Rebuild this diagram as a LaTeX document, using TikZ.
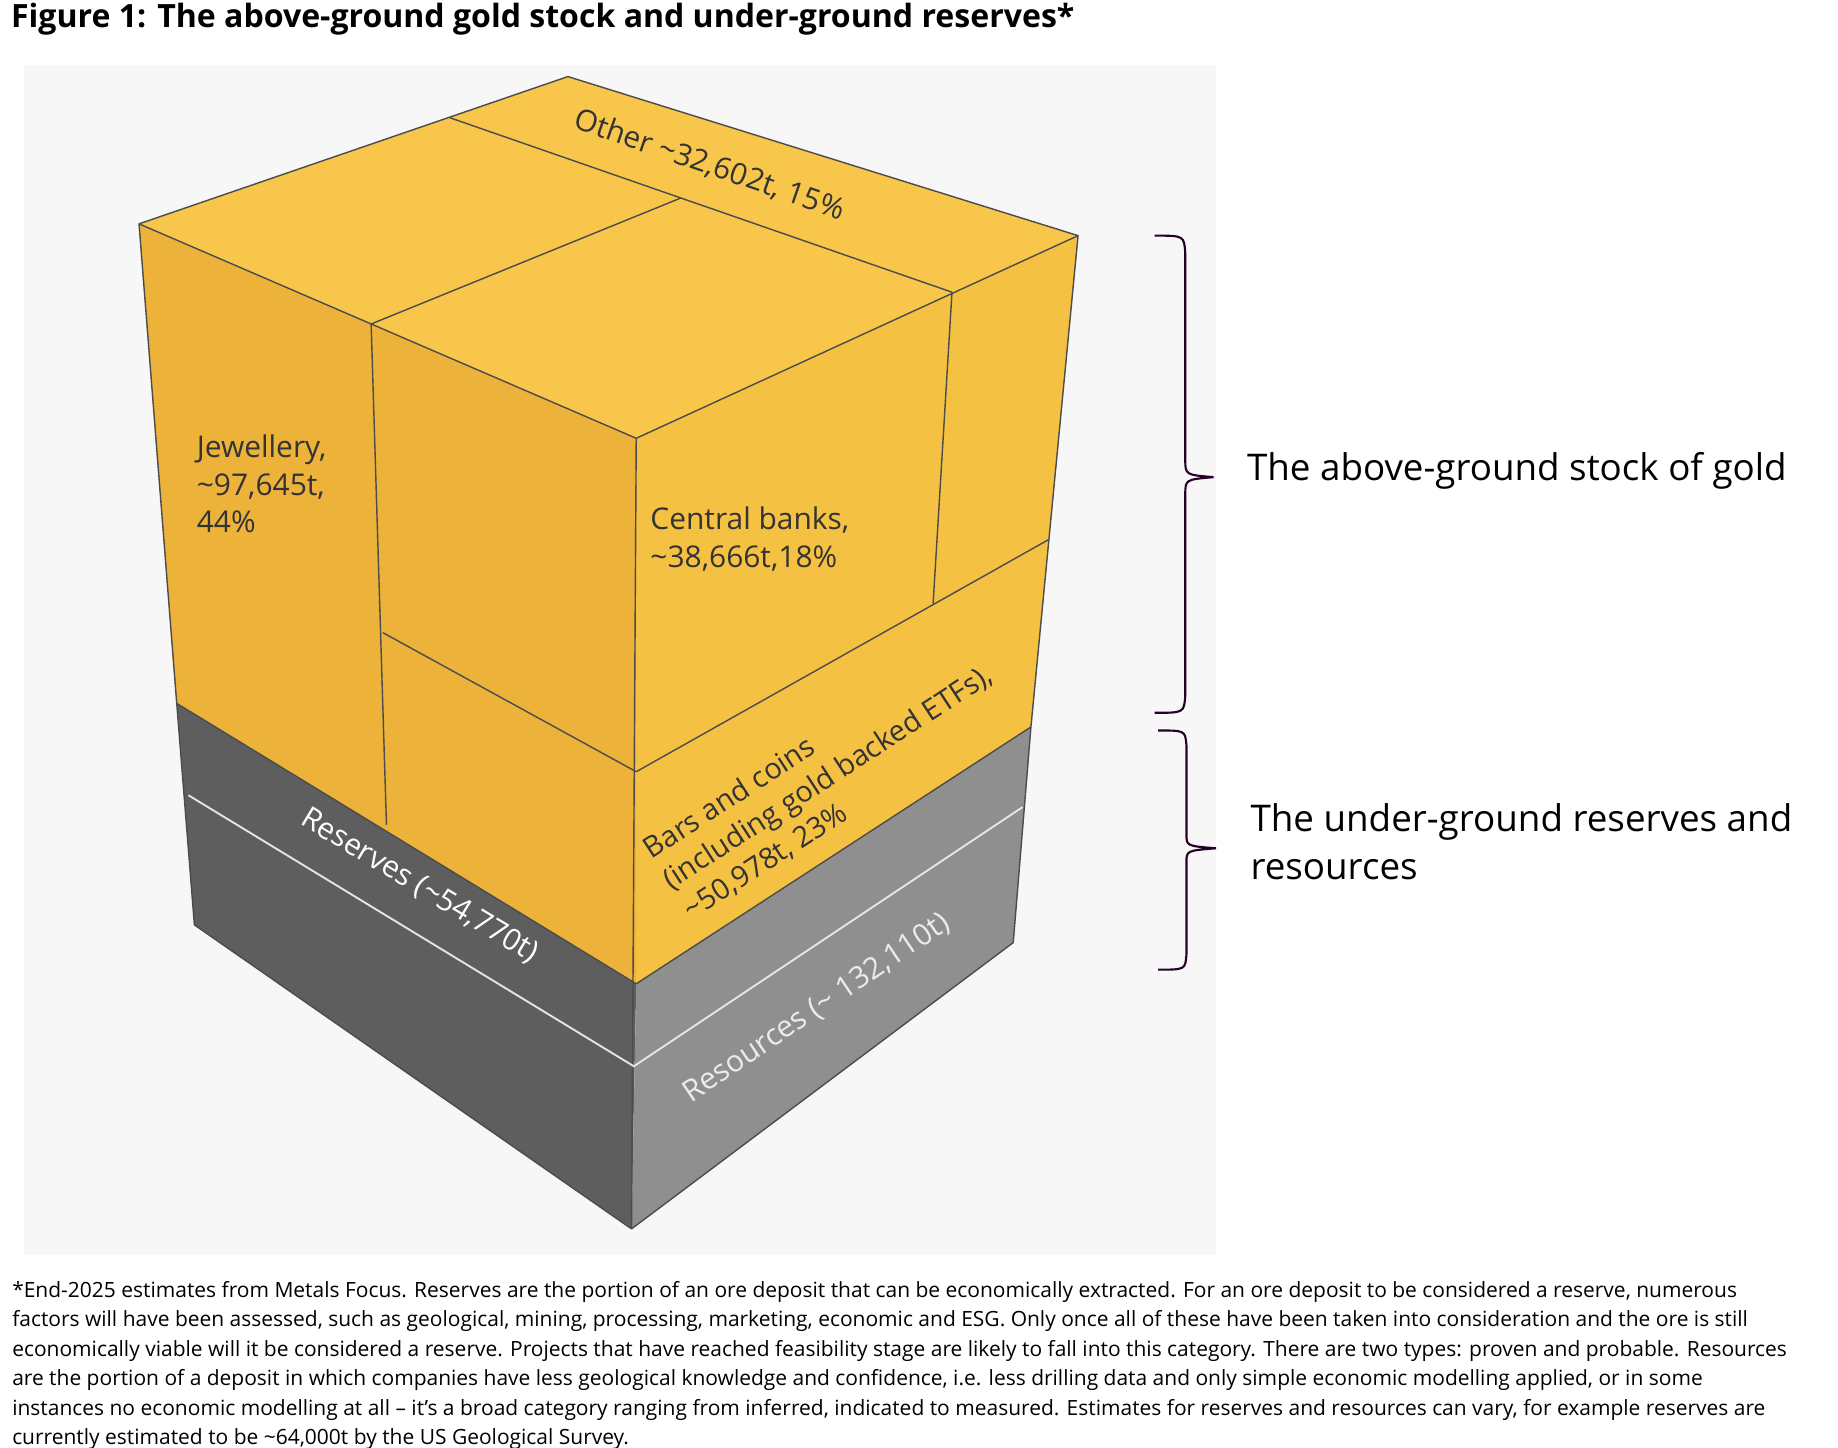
\documentclass[tikz,border=0pt]{standalone}
\usepackage{fontspec}
\setmainfont{Open Sans}
\definecolor{gtop}{RGB}{247,198,74}
\definecolor{gleft}{RGB}{236,178,58}
\definecolor{gright}{RGB}{245,193,67}
\begin{document}
\begin{tikzpicture}[x=0.5pt,y=-0.5pt,
  edge/.style={draw=black!70,line width=0.6pt,line join=round},
  lbl/.style={font=\fontsize{12.7}{16}\selectfont,text=black!80},
  wl/.style={font=\fontsize{12.7}{15}\selectfont,text=white},
  br/.style={draw=black!70!violet,line width=0.9pt},
  fn/.style={font=\fontsize{8.9}{11}\selectfont,anchor=base west,inner sep=0}]
\useasboundingbox (0,0) rectangle (1560,1229);
\fill[white] (0,0) rectangle (1560,1229);
\fill[black!3] (20,55) rectangle (1032,1065);
% coordinates
\coordinate (B) at (482,65); \coordinate (L) at (118,190);
\coordinate (F) at (540,372); \coordinate (R) at (915,200);
\coordinate (Lg) at (150,597); \coordinate (Fg) at (540,835); \coordinate (Rg) at (875,617);
\coordinate (Lb) at (165,785); \coordinate (Fb) at (536,1043); \coordinate (Rb) at (860,800);
% grey
\fill[black!63] (Lg)--(Fg)--(Fb)--(Lb)--cycle;
\fill[black!44] (Fg)--(Rg)--(Rb)--(Fb)--cycle;
% gold
\fill[gtop] (B)--(L)--(F)--(R)--cycle;
\fill[gleft] (L)--(F)--(Fg)--(Lg)--cycle;
\fill[gright] (F)--(R)--(Rg)--(Fg)--cycle;
% internal lines
\coordinate (t1) at (382,100); \coordinate (t2) at (808,248);
\coordinate (t3) at (315,275); \coordinate (t4) at (578,168);
\coordinate (r1) at (792,512); \coordinate (r2) at (540,655); \coordinate (r3) at (890,458);
\coordinate (l1) at (328,700); \coordinate (l2) at (325,537);
\draw[edge] (t1)--(t2) (t3)--(t4) (t2)--(r1) (r2)--(r3) (t3)--(l1) (l2)--(r2);
\draw[edge] (B)--(L)--(F)--(R)--cycle (L)--(Lg)--(Lb)--(Fb)--(Rb)--(Rg)--(R) (F)--(Fb) (Lg)--(Fg)--(Rg);
\coordinate (w1) at (160,675); \coordinate (w2) at (538,905); \coordinate (w3) at (868,685);
\draw[white!90!black,line width=0.8pt] (w1)--(w2)--(w3);
% labels
\node[lbl,rotate=-19] (oth) at (602,140) {Other \textasciitilde32,602t, 15\%};
\node[lbl,anchor=north west,align=left] (jew) at (160,362) {Jewellery,\\\textasciitilde97,645t,\\44\%};
\node[lbl,anchor=north west,align=left] (cb) at (545,423) {Central banks,\\\textasciitilde38,666t,18\%};
\node[lbl,rotate=33,align=left,font=\fontsize{12.3}{15.5}\selectfont] (bars) at (703,660) {Bars and coins\\(including gold backed ETFs),\\\textasciitilde50,978t, 23\%};
\node[wl,rotate=-31] (res) at (356,752) {Reserves (\textasciitilde54,770t)};
\node[wl,rotate=34,text=black!8] (rsc) at (693,856) {Resources (\textasciitilde\ 132,110t)};
% braces
\draw[br] (980,200) .. controls (1005,200) .. (1006,215) -- (1006,390) .. controls (1006,403) .. (1030,405) .. controls (1006,407) .. (1006,420) -- (1006,590) .. controls (1005,605) .. (980,605);
\draw[br] (983,620) .. controls (1006,620) .. (1007,633) -- (1007,708) .. controls (1007,718) .. (1032,720) .. controls (1007,722) .. (1007,732) -- (1007,810) .. controls (1006,823) .. (983,823);
\node[font=\fontsize{15.6}{18}\selectfont,anchor=west,inner sep=0] (ag) at (1058,400) {The above-ground stock of gold};
\node[font=\fontsize{15.6}{20}\selectfont,anchor=north west,align=left,inner sep=0] (ug) at (1061,682) {The under-ground reserves and\\resources};
% title
\node[font=\fontsize{13.6}{15}\selectfont\bfseries,anchor=north west,inner sep=0] (title) at (9,2) {Figure 1: The above-ground gold stock and under-ground reserves*};
% footnote
\node[fn] (f1) at (10,1101) {*End-2025 estimates from Metals Focus. Reserves are the portion of an ore deposit that can be economically extracted. For an ore deposit to be considered a reserve, numerous};
\node[fn] (f2) at (10,1126) {factors will have been assessed, such as geological, mining, processing, marketing, economic and ESG. Only once all of these have been taken into consideration and the ore is still};
\node[fn] (f3) at (10,1151) {economically viable will it be considered a reserve. Projects that have reached feasibility stage are likely to fall into this category. There are two types: proven and probable. Resources};
\node[fn] (f4) at (10,1176) {are the portion of a deposit in which companies have less geological knowledge and confidence, i.e. less drilling data and only simple economic modelling applied, or in some};
\node[fn] (f5) at (10,1201) {instances no economic modelling at all – it’s a broad category ranging from inferred, indicated to measured. Estimates for reserves and resources can vary, for example reserves are};
\node[fn] (f6) at (10,1226) {currently estimated to be \textasciitilde64,000t by the US Geological Survey.};
\end{tikzpicture}
\end{document}
